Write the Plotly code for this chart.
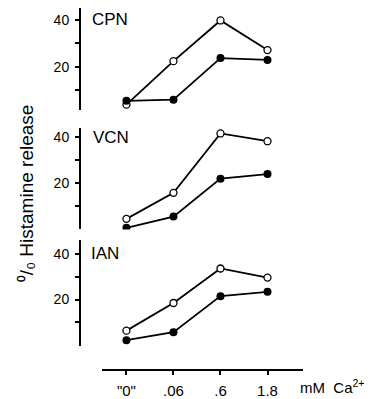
import plotly.graph_objects as go

categories = ['"0"', ".06", ".6", "1.8"]
x_idx = [0, 1, 2, 3]
panels = ["CPN", "VCN", "IAN"]

cpn_open = [3.9, 22.4, 39.7, 27.1]
cpn_filled = [5.5, 6.0, 23.7, 22.9]
vcn_open = [4.3, 15.7, 41.7, 38.3]
vcn_filled = [0.4, 5.3, 21.9, 23.9]
ian_open = [6.4, 18.5, 33.6, 29.6]
ian_filled = [2.2, 5.7, 21.5, 23.4]

y_tickvals = [10, 20, 30, 40]
y_ticktext = ["", "20", "", "40"]

# page body has an 8px default margin: figure occupies window px 8..382 / 8..399
OFF = 8
W, H = 382 - OFF, 399 - OFF
FONT = "Liberation Sans, Arial, sans-serif"

def px_x(p):
    return (p - OFF) / W

def px_y(p):
    return 1 - (p - OFF) / H

fig = go.Figure()
series = [(cpn_open, cpn_filled), (vcn_open, vcn_filled), (ian_open, ian_filled)]
yaxes = ["y", "y2", "y3"]
for (o, f), ya in zip(series, yaxes):
    fig.add_trace(go.Scatter(x=x_idx, y=o, yaxis=ya, mode="lines+markers",
                             line=dict(color="black", width=1.8),
                             marker=dict(symbol="circle", size=7, color="white",
                                         line=dict(color="black", width=1.3)),
                             showlegend=False))
    fig.add_trace(go.Scatter(x=x_idx, y=f, yaxis=ya, mode="lines+markers",
                             line=dict(color="black", width=1.8),
                             marker=dict(symbol="circle", size=8, color="black"),
                             showlegend=False))

domains = [(8, 112), (130, 234), (245, 353)]
ranges = [[1.67, 45], [-0.3, 44.3], [-0.3, 46]]

def yax(dom, rng):
    return dict(domain=[px_y(dom[1]), px_y(dom[0])], range=rng, anchor="free",
                position=px_x(80), showline=True, linecolor="black", linewidth=2,
                ticks="outside", ticklen=4, tickwidth=1.5, tickcolor="black",
                tickvals=y_tickvals, ticktext=y_ticktext, showgrid=False,
                zeroline=False, tickfont=dict(family=FONT, size=14, color="black"),
                ticklabelstandoff=3, fixedrange=True)

fig.update_layout(
    width=W, height=H, autosize=False,
    margin=dict(l=0, r=0, t=0, b=0),
    paper_bgcolor="white", plot_bgcolor="white",
    xaxis=dict(domain=[px_x(102), px_x(303)], range=[-0.52, 3.755],
               anchor="free", position=px_y(377.7),
               showline=True, linecolor="black", linewidth=2,
               ticks="outside", ticklen=4, tickwidth=1.5, tickcolor="black",
               tickvals=x_idx, ticktext=categories, showgrid=False, zeroline=False,
               ticklabelstandoff=3,
               tickfont=dict(family=FONT, size=15, color="black"), fixedrange=True),
    yaxis=yax(domains[0], ranges[0]),
    yaxis2=yax(domains[1], ranges[1]),
    yaxis3=yax(domains[2], ranges[2]),
)

label_pos = [(90, 20), (91, 140), (89, 259)]
for name, (lx, ly) in zip(panels, label_pos):
    fig.add_annotation(text=name, x=px_x(lx), y=px_y(ly), xref="paper", yref="paper",
                       xanchor="left", yanchor="middle", showarrow=False,
                       font=dict(family=FONT, size=17, color="black"))

fig.add_annotation(text="⁰/₀ Histamine release", x=px_x(26), y=px_y(197),
                   xref="paper", yref="paper", textangle=-90, showarrow=False,
                   xanchor="center", yanchor="middle",
                   font=dict(family=FONT, size=19, color="black"))

fig.add_annotation(text="mM  Ca<sup>2+</sup>", x=px_x(298), y=px_y(394),
                   xref="paper", yref="paper", xanchor="left", yanchor="middle",
                   showarrow=False, font=dict(family=FONT, size=15, color="black"))

fig.write_html("out.html")
